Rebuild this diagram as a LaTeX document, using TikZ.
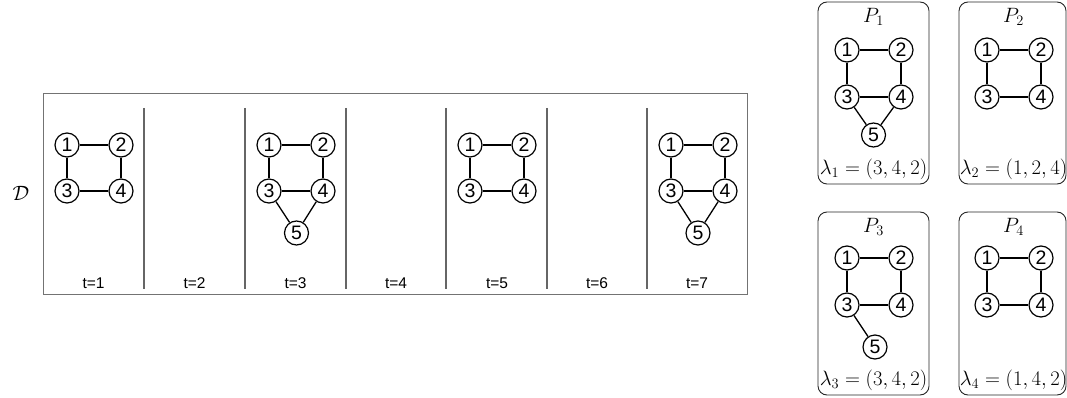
\documentclass[tikz,border=0pt]{standalone}
\usepackage{fontspec}
\newfontfamily\arialf{Liberation Sans}
\begin{document}
\begin{tikzpicture}[x=1pt,y=-1pt,
  vtx/.style={circle,draw=black,line width=1.2pt,minimum size=24pt,inner sep=0pt,font=\arialf\fontsize{19.5}{19.5}\selectfont},
  edge/.style={line width=1.3pt,black},
  frame/.style={draw=black!55,line width=0.9pt},
  sep/.style={draw=black!60,line width=1.2pt},
  tlabel/.style={font=\arialf\fontsize{15.5}{16}\selectfont},
  pbox/.style={draw=black!85,line width=0.9pt,rounded corners=9pt},
  mlabel/.style={font=\fontsize{20.5}{24}\selectfont,inner sep=0pt}]
\useasboundingbox (0,0) rectangle (1067,398);
% big frame
\node[frame,minimum width=704pt,minimum height=201pt,inner sep=0pt] (frm) at (395,193.5) {};
\node[font=\fontsize{21}{24}\selectfont] (D) at (21,193) {$\mathcal{D}$};
% separators
\foreach \i/\x in {1/144,2/245,3/346,4/446,5/547,6/647}{
  \coordinate (s\i a) at (\x,108);
  \coordinate (s\i b) at (\x,289);
  \draw[sep] (s\i a) -- (s\i b);
}
% time labels
\foreach \i/\x in {1/93.5,2/194.5,3/295.5,4/396,5/497,6/597,7/697}{
  \node[tlabel] (t\i) at (\x,283.5) {t=\i};
}
% square graphs in the timeline
\foreach \p/\lx in {a/67,c/269,e/470,g/671}{
  \node[vtx] (\p1) at (\lx,145) {1};
  \node[vtx] (\p2) at (\lx+54,145) {2};
  \node[vtx] (\p3) at (\lx,191) {3};
  \node[vtx] (\p4) at (\lx+54,191) {4};
  \draw[edge] (\p1) -- (\p2);
  \draw[edge] (\p1) -- (\p3);
  \draw[edge] (\p2) -- (\p4);
  \draw[edge] (\p3) -- (\p4);
}
\node[vtx] (c5) at (296.5,233) {5};
\draw[edge] (c3) -- (c5);
\draw[edge] (c4) -- (c5);
\node[vtx] (g5) at (698,233) {5};
\draw[edge] (g3) -- (g5);
\draw[edge] (g4) -- (g5);
% P boxes
\node[pbox,minimum width=111pt,minimum height=182pt,inner sep=0pt] (B1) at (873.5,93) {};
\node[pbox,minimum width=107pt,minimum height=182pt,inner sep=0pt] (B2) at (1012.5,93) {};
\node[pbox,minimum width=111pt,minimum height=183pt,inner sep=0pt] (B3) at (873.5,303.5) {};
\node[pbox,minimum width=107pt,minimum height=183pt,inner sep=0pt] (B4) at (1012.5,303.5) {};
\node[mlabel] (L1) at (873.5,17) {$P_1$};
\node[mlabel] (L2) at (1013.5,17) {$P_2$};
\node[mlabel] (L3) at (873.5,227) {$P_3$};
\node[mlabel] (L4) at (1013.5,227) {$P_4$};
\node[mlabel] (M1) at (873.5,169) {$\lambda_1=(3,4,2)$};
\node[mlabel] (M2) at (1013.5,169) {$\lambda_2=(1,2,4)$};
\node[mlabel] (M3) at (873.5,380) {$\lambda_3=(3,4,2)$};
\node[mlabel] (M4) at (1013.5,380) {$\lambda_4=(1,4,2)$};
\foreach \p/\lx/\cy in {p/847/50,q/987/50,r/847/258,s/987/258}{
  \node[vtx] (\p1) at (\lx,\cy) {1};
  \node[vtx] (\p2) at (\lx+54,\cy) {2};
  \node[vtx] (\p3) at (\lx,\cy+47) {3};
  \node[vtx] (\p4) at (\lx+54,\cy+47) {4};
  \draw[edge] (\p1) -- (\p2);
  \draw[edge] (\p1) -- (\p3);
  \draw[edge] (\p2) -- (\p4);
  \draw[edge] (\p3) -- (\p4);
}
\node[vtx] (p5) at (873.5,135) {5};
\draw[edge] (p3) -- (p5);
\draw[edge] (p4) -- (p5);
\node[vtx] (r5) at (875,347) {5};
\draw[edge] (r3) -- (r5);
\end{tikzpicture}
\end{document}
